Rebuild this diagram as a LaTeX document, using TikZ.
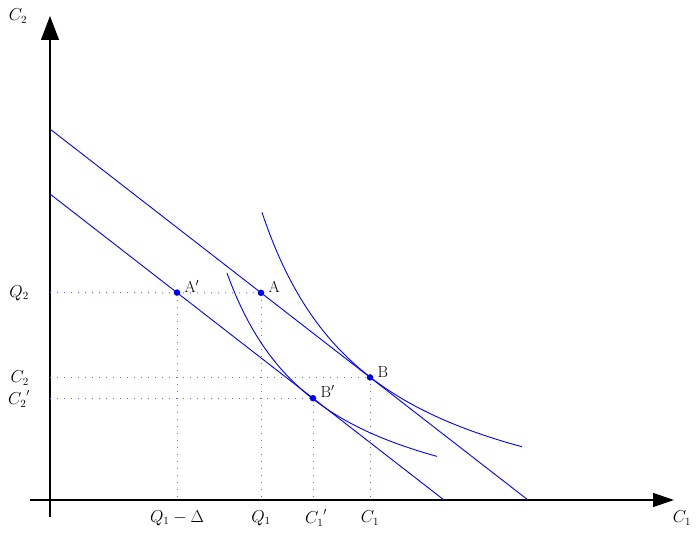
\documentclass[tikz,border=0pt]{standalone}
\usetikzlibrary{arrows.meta}
\begin{document}
\begin{tikzpicture}[x=1pt,y=-1pt,
  font=\fontsize{16}{19}\selectfont,
  budget/.style={blue, line width=0.9pt},
  guide/.style={blue!35!gray!85, line width=1pt, dash pattern=on 1pt off 6pt},
  pt/.style={circle, fill=blue, inner sep=0pt, minimum size=6.5pt},
  axisline/.style={black, line width=1.3pt},
  lbl/.style={inner sep=1pt}]
\useasboundingbox (0,0) rectangle (697,537);
% axes
\coordinate (O) at (50,500);
\coordinate (ybot) at (50,517);
\coordinate (ytop) at (50,16);
\coordinate (xleft) at (30,500);
\coordinate (xright) at (674,500);
\draw[axisline, -{Triangle[length=24pt,width=18pt]}] (ybot) -- (ytop);
\draw[axisline, -{Triangle[length=21pt,width=14pt]}] (xleft) -- (xright);
\node[lbl] (lc2) at (18,16) {$C_2$};
\node[lbl] (lc1) at (682,518) {$C_1$};
% points
\coordinate (Ap) at (177,292.6);
\coordinate (A) at (261,292.8);
\coordinate (B) at (370,377.4);
\coordinate (Bp) at (313,398.2);
% guide lines
\coordinate (yA) at (50,292.7);
\coordinate (yB) at (50,377.4);
\coordinate (yBp) at (50,398.2);
\coordinate (xAp) at (177,500);
\coordinate (xA) at (261,500);
\coordinate (xBp) at (313,500);
\coordinate (xB) at (370,500);
\draw[guide] (yA) -- (A);
\draw[guide] (yB) -- (B);
\draw[guide] (yBp) -- (Bp);
\draw[guide] (Ap) -- (xAp);
\draw[guide] (A) -- (xA);
\draw[guide] (Bp) -- (xBp);
\draw[guide] (B) -- (xB);
% budget lines
\coordinate (u1) at (50,129);
\coordinate (u2) at (528,500);
\coordinate (l1) at (50,194);
\coordinate (l2) at (444,500);
\draw[budget] (u1) -- (u2);
\draw[budget] (l1) -- (l2);
% indifference curves
\draw[budget] plot[domain=262:522, samples=90, smooth] (\x, {547.7-375.56/((\x-150)/100)});
\draw[budget] plot[domain=227:437, samples=90, smooth] (\x, {541-259.86/((\x-130)/100)});
% dots
\node[pt] (nAp) at (Ap) {};
\node[pt] (nA) at (A) {};
\node[pt] (nB) at (B) {};
\node[pt] (nBp) at (Bp) {};
\node[lbl, anchor=south west] (tAp) at ([xshift=3pt,yshift=-1pt]nAp.east) {A$'$};
\node[lbl, anchor=south west] (tA) at ([xshift=3pt,yshift=-1pt]nA.east) {A};
\node[lbl, anchor=south west] (tB) at ([xshift=3pt,yshift=-1pt]nB.east) {B};
\node[lbl, anchor=south west] (tBp) at ([xshift=3pt,yshift=-1pt]nBp.east) {B$'$};
% axis tick labels
\node[lbl, anchor=east] (lQ2) at (30,293) {$Q_2$};
\node[lbl, anchor=east] (lC2) at (30,378) {$C_2$};
\node[lbl, anchor=east] (lC2p) at (31,399) {${C_2}'$};
\node[lbl] (lQD) at (177,518) {$Q_1-\Delta$};
\node[lbl] (lQ1) at (261,518) {$Q_1$};
\node[lbl] (lC1p) at (316,518) {${C_1}'$};
\node[lbl] (lC1) at (370,518) {$C_1$};
\end{tikzpicture}
\end{document}
